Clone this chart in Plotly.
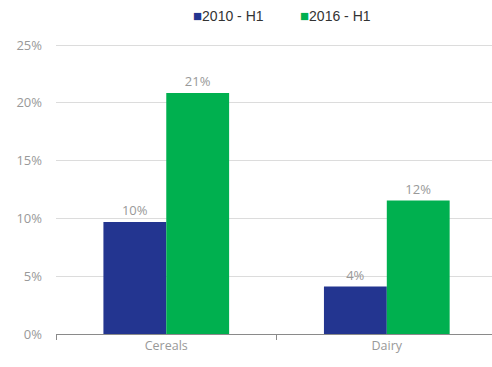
import plotly.graph_objects as go

categories = ["Cereals", "Dairy"]
series_names = ["2010 - H1", "2016 - H1"]
values_2010 = [9.7, 4.1]
values_2016 = [20.85, 11.55]
colors = ["#233590", "#00b04f"]
y_ticks = [0, 5, 10, 15, 20, 25]
y_tick_labels = [f"{v}%" for v in y_ticks]

fig = go.Figure()
for name, vals, col in zip(series_names, [values_2010, values_2016], colors):
    fig.add_trace(go.Bar(
        x=categories, y=vals, name=name, marker=dict(color=col, line=dict(width=0)),
        texttemplate="%{y:.0f}%", textposition="outside", cliponaxis=False,
        textfont=dict(family="Open Sans", size=13, color="#999999"),
        showlegend=False,
    ))

fig.update_layout(
    width=492, height=367,
    margin=dict(l=56, r=0, t=44, b=33),
    plot_bgcolor="white", paper_bgcolor="white",
    barmode="group", bargap=0.43, bargroupgap=0,
    uniformtext=dict(minsize=8),
    xaxis=dict(
        range=[-0.5, 1.477], showgrid=False, showline=True, linecolor="#8a8a8a", linewidth=1.2,
        ticks="outside", tickson="boundaries", ticklen=5, tickcolor="#8a8a8a",
        tickfont=dict(family="Open Sans", size=12.5, color="#999999"),
    ),
    yaxis=dict(
        range=[0, 25.09], tickmode="array", tickvals=y_ticks, ticktext=y_tick_labels,
        showgrid=True, gridcolor="#dcdcdc",
        gridwidth=1, zeroline=False, showline=False, ticks="", ticklabelstandoff=13,
        tickfont=dict(family="Open Sans", size=13, color="#999999"),
    ),
)

for i, (name, col) in enumerate(zip(series_names, colors)):
    fig.add_annotation(
        x=[0.395, 0.64][i], y=1.0, xref="paper", yref="paper", yanchor="bottom", yshift=18,
        xanchor="center", showarrow=False,
        text=f"<span style='color:{col};font-size:15px'>■</span>{name}",
        font=dict(family="Liberation Sans", size=14, color="#333333"),
    )

fig.write_html("out.html")
